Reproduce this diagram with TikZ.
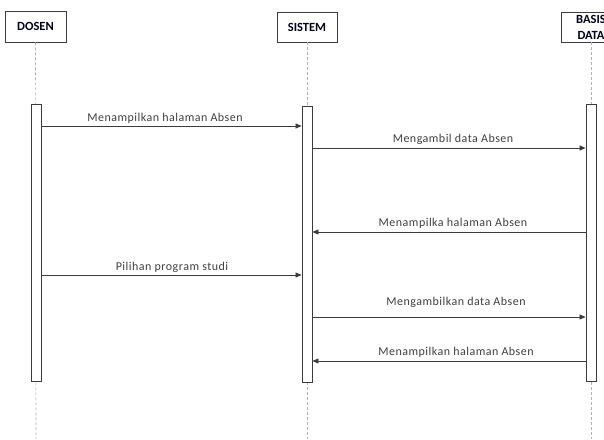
\documentclass[tikz,border=0pt]{standalone}
\usepackage{fontspec}
\setmainfont{Carlito}
\newfontfamily\lblfont[LetterSpace=4]{Carlito}
\usetikzlibrary{arrows.meta}
\definecolor{lineg}{RGB}{60,60,60}
\begin{document}
\begin{tikzpicture}[x=1pt,y=-1pt,
  actor/.style={draw=lineg,line width=0.9pt,fill=white,inner sep=0pt,font=\fontsize{12.5}{16}\selectfont\bfseries,align=center,text=black!90!blue},
  life/.style={draw=black!30,dashed,dash pattern=on 3pt off 2pt,line width=0.6pt},
  bar/.style={draw=lineg,line width=0.9pt,fill=white},
  msg/.style={draw=lineg,line width=0.7pt,-{Triangle[length=6pt,width=5pt]}},
  lbl/.style={font=\lblfont\fontsize{12}{13}\selectfont,text=black!75,inner sep=1pt,anchor=base}]
\useasboundingbox (0,0) rectangle (604,439);
\fill[white] (0,0) rectangle (604,439);
% actors
\node[actor,minimum width=61pt,minimum height=31pt] (dosen) at (35.5,26.5) {DOSEN};
\node[actor,minimum width=60pt,minimum height=30pt] (sistem) at (307,27) {SISTEM};
\node[actor,minimum width=60pt,minimum height=30pt] (basis) at (591,27) {BASIS\\DATA};
% lifelines
\coordinate (dend) at (36,439);
\coordinate (send) at (307,439);
\coordinate (bend) at (591,439);
\draw[life] (dosen.south) -- (dend);
\draw[life] (sistem.south) -- (send);
\draw[life] (basis.south) -- (bend);
% activation bars
\node[bar,minimum width=10pt,minimum height=277pt,inner sep=0pt] (bd) at (36,242.5) {};
\node[bar,minimum width=10pt,minimum height=276pt,inner sep=0pt] (bs) at (307,244) {};
\node[bar,minimum width=10pt,minimum height=277pt,inner sep=0pt] (bb) at (591,242.5) {};
% messages
\coordinate (m1a) at (bd.east |- 0,126); \coordinate (m1b) at (bs.west |- 0,126);
\coordinate (m2a) at (bs.east |- 0,148); \coordinate (m2b) at (bb.west |- 0,148);
\coordinate (m3a) at (bb.west |- 0,232); \coordinate (m3b) at (bs.east |- 0,232);
\coordinate (m4a) at (bd.east |- 0,275); \coordinate (m4b) at (bs.west |- 0,275);
\coordinate (m5a) at (bs.east |- 0,317); \coordinate (m5b) at (bb.west |- 0,317);
\coordinate (m6a) at (bb.west |- 0,361); \coordinate (m6b) at (bs.east |- 0,361);
\draw[msg] (m1a) -- (m1b);
\draw[msg] (m2a) -- (m2b);
\draw[msg] (m3a) -- (m3b);
\draw[msg] (m4a) -- (m4b);
\draw[msg] (m5a) -- (m5b);
\draw[msg] (m6a) -- (m6b);
\node[lbl] (l1) at (165,121) {Menampilkan halaman Absen};
\node[lbl] (l2) at (453,142) {Mengambil data Absen};
\node[lbl] (l3) at (453,226) {Menampilka halaman Absen};
\node[lbl] (l4) at (172,270) {Pilihan program studi};
\node[lbl] (l5) at (456,305) {Mengambilkan data Absen};
\node[lbl] (l6) at (456,355) {Menampilkan halaman Absen};
\end{tikzpicture}
\end{document}
